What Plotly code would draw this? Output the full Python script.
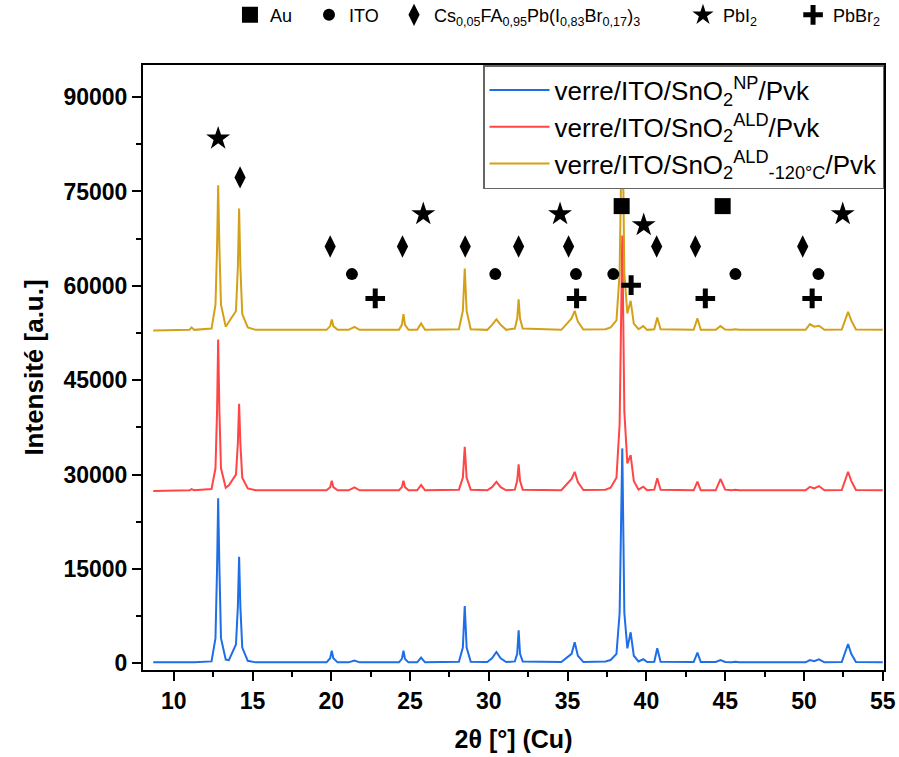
import plotly.graph_objects as go

# ---------------- data ----------------
two_theta = [8.7, 11.0, 11.13, 11.3, 12.4, 12.65, 12.75, 12.82, 12.9, 13.0, 13.3, 13.5,
             13.95, 14.07, 14.15, 14.23, 14.35, 14.7, 15.2, 19.7, 19.93, 20.03, 20.13, 20.4,
             21.1, 21.47, 21.8, 24.3, 24.48, 24.58, 24.68, 24.9, 25.45, 25.7, 25.95,
             28.1, 28.35, 28.47, 28.59, 28.85, 29.9, 30.2, 30.48, 30.75, 31.1,
             31.65, 31.8, 31.89, 31.98, 32.15, 34.6, 35.0, 35.25, 35.45, 35.65, 36.0,
             37.4, 37.73, 38.1, 38.3, 38.47, 38.6, 38.79, 39.0, 39.2, 39.5, 39.8, 40.05,
             40.5, 40.69, 40.9, 43.0, 43.24, 43.45, 44.4, 44.7, 45.0, 45.4, 45.65, 45.9,
             50.1, 50.38, 50.65, 50.95, 51.3, 52.4, 52.6, 52.8, 53.0, 53.3, 55.0]

intensity_np = [150, 150, 250, 150, 300, 4000, 15000, 26250, 15000, 4000, 600, 500,
                3000, 9000, 16950, 9000, 2500, 400, 150, 150, 800, 2000, 800, 150,
                150, 450, 150, 150, 700, 2000, 700, 150, 150, 900, 150,
                250, 2500, 9090, 2500, 250, 200, 800, 1800, 800, 200,
                300, 1500, 5230, 1500, 300, 200, 950, 1500, 3340, 1200, 200,
                300, 520, 1500, 8000, 34160, 8000, 2380, 4930, 1200, 300, 640, 200,
                250, 2380, 250, 200, 1690, 200, 200, 520, 200, 150, 250, 150,
                150, 520, 350, 640, 150, 200, 1500, 3070, 1500, 200, 150]

intensity_ald = [27400, 27500, 27700, 27500, 27700, 31000, 40000, 51450, 40000, 31000, 27900, 28300,
                 30000, 35000, 41250, 35000, 29500, 27800, 27500, 27500, 28000, 29000, 28000, 27500,
                 27500, 27950, 27500, 27500, 28000, 29000, 28000, 27500, 27500, 28360, 27500,
                 27600, 29500, 34430, 29500, 27600, 27500, 28000, 28840, 28000, 27500,
                 27600, 29000, 31640, 29000, 27600, 27500, 28700, 29300, 30440, 28800, 27550,
                 27600, 27900, 29500, 38000, 68000, 40000, 31780, 33100, 29000, 27600, 28060, 27500,
                 27600, 29400, 27600, 27500, 28870, 27500, 27500, 29290, 27600, 27500, 27600, 27500,
                 27500, 28060, 27800, 28170, 27500, 27550, 29000, 30440, 29000, 27550, 27500]

intensity_ald120 = [52900, 53000, 53400, 53000, 53200, 57000, 66000, 76000, 66000, 57000, 53500, 54300,
                    56000, 63000, 72300, 63000, 55500, 53400, 53000, 53000, 53600, 54660, 53600, 53000,
                    53000, 53490, 53000, 53000, 53800, 55500, 53800, 53000, 53000, 54030, 53000,
                    53100, 56000, 62760, 56000, 53100, 53000, 53800, 54660, 53800, 53000,
                    53200, 54800, 57840, 54800, 53200, 53000, 54120, 54800, 56030, 54300, 53050,
                    53100, 53400, 54500, 62000, 90000, 62000, 55620, 57620, 54000, 53100, 53600, 53000,
                    53100, 54980, 53100, 53000, 54820, 53000, 53000, 53600, 53050, 53000, 53100, 53000,
                    53000, 53920, 53500, 53650, 53000, 53050, 54500, 55870, 54500, 53050, 53000]

series_names = ["verre/ITO/SnO<sub>2</sub><sup>NP</sup>/Pvk",
                "verre/ITO/SnO<sub>2</sub><sup>ALD</sup>/Pvk",
                "verre/ITO/SnO<sub>2</sub><sup>ALD</sup><sub>-120°C</sub>/Pvk"]
series_colors = ["#1e6ee6", "#ff4545", "#d4a017"]

# phase identification markers
au_x = [38.43, 44.84]
au_y = [72670, 72670]
ito_x = [21.31, 30.41, 35.53, 37.90, 45.65, 50.92]
ito_y = [61860, 61860, 61860, 61860, 61860, 61860]
pvk_x = [14.21, 19.93, 24.52, 28.50, 31.89, 35.06, 40.65, 43.11, 49.92]
pvk_y = [77230, 66260, 66260, 66260, 66260, 66260, 66260, 66260, 66260]
pbi2_x = [12.82, 25.84, 34.52, 39.83, 52.46]
pbi2_y = [83420, 71400, 71400, 69650, 71400]
pbbr2_x = [22.79, 35.57, 39.03, 43.74, 50.52]
pbbr2_y = [58000, 58000, 60110, 58000, 58000]

phase_names = ["Au", "ITO",
               "Cs<sub>0,05</sub>FA<sub>0,95</sub>Pb(I<sub>0,83</sub>Br<sub>0,17</sub>)<sub>3</sub>",
               "PbI<sub>2</sub>", "PbBr<sub>2</sub>"]

x_ticks = [10, 15, 20, 25, 30, 35, 40, 45, 50, 55]
y_ticks = [0, 15000, 30000, 45000, 60000, 75000, 90000]

FONT = "Arial, Liberation Sans, sans-serif"

fig = go.Figure()
for yv, nm, col in zip([intensity_np, intensity_ald, intensity_ald120], series_names, series_colors):
    fig.add_trace(go.Scatter(x=two_theta, y=yv, mode="lines", name=nm,
                             line=dict(color=col, width=2), legend="legend"))

# one single-entry legend per phase, laid out along the top row
phase_styles = [("square", 16, 0), ("circle", 12, 0), ("diamond-tall", 16, 0),
                ("star", 18, 0), ("cross-thin", 14, 5)]
key_pos = [(0.2558, "left"), (0.3437, "left"), (0.4383, "left"), (0.8487, "right"), (0.9856, "right")]
phase_xy = [(au_x, au_y), (ito_x, ito_y), (pvk_x, pvk_y), (pbi2_x, pbi2_y), (pbbr2_x, pbbr2_y)]
legend_layouts = {}
for i, ((px, py), (sym, sz, lw), nm) in enumerate(zip(phase_xy, phase_styles, phase_names)):
    lname = "legend%d" % (i + 2)
    fig.add_trace(go.Scatter(x=px, y=py, mode="markers", name=nm,
                             marker=dict(symbol=sym, size=sz, color="black",
                                         line=dict(color="black", width=lw)),
                             legend=lname))
    legend_layouts[lname] = dict(orientation="h", x=key_pos[i][0], y=0.980,
                                 xref="container", yref="container",
                                 xanchor=key_pos[i][1], yanchor="middle",
                                 bgcolor="rgba(0,0,0,0)", borderwidth=0,
                                 font=dict(family=FONT, size=18, color="black"),
                                 itemwidth=30)

axis_common = dict(showline=True, linecolor="black", linewidth=2, mirror=True,
                   ticks="outside", ticklen=9, tickwidth=2, tickcolor="black",
                   showgrid=False, zeroline=False, automargin=False,
                   tickfont=dict(family=FONT, size=23, color="black", weight="bold"))

fig.update_xaxes(range=[8.05, 55.08], tickvals=x_ticks, tickformat="d",
                 minor=dict(dtick=2.5, tick0=0, ticks="outside", ticklen=5, tickwidth=2,
                            tickcolor="black"),
                 title=dict(text="2θ [°] (Cu)", font=dict(family=FONT, size=25, color="black",
                                                         weight="bold"), standoff=18),
                 **axis_common)
fig.update_yaxes(range=[-1065, 95100], tickvals=y_ticks, tickformat="d",
                 minor=dict(dtick=7500, tick0=0, ticks="outside", ticklen=5, tickwidth=2,
                            tickcolor="black"),
                 title=dict(text="Intensité [a.u.]", font=dict(family=FONT, size=26, color="black",
                                                              weight="bold"), standoff=12),
                 **axis_common)

fig.update_layout(
    width=899, height=757,
    margin=dict(l=143, r=15, t=65, b=87),
    paper_bgcolor="white", plot_bgcolor="white",
    font=dict(family=FONT, color="black"),
    showlegend=True,
    legend=dict(x=1.0, y=1.0, xanchor="right", yanchor="top",
                bgcolor="white", bordercolor="#666666", borderwidth=1.5,
                font=dict(family=FONT, size=26, color="black"),
                itemwidth=60, tracegroupgap=0),
    **legend_layouts,
)

fig.write_html("out.html", config={"displayModeBar": False},
               post_script="document.body.style.margin='0px';")
